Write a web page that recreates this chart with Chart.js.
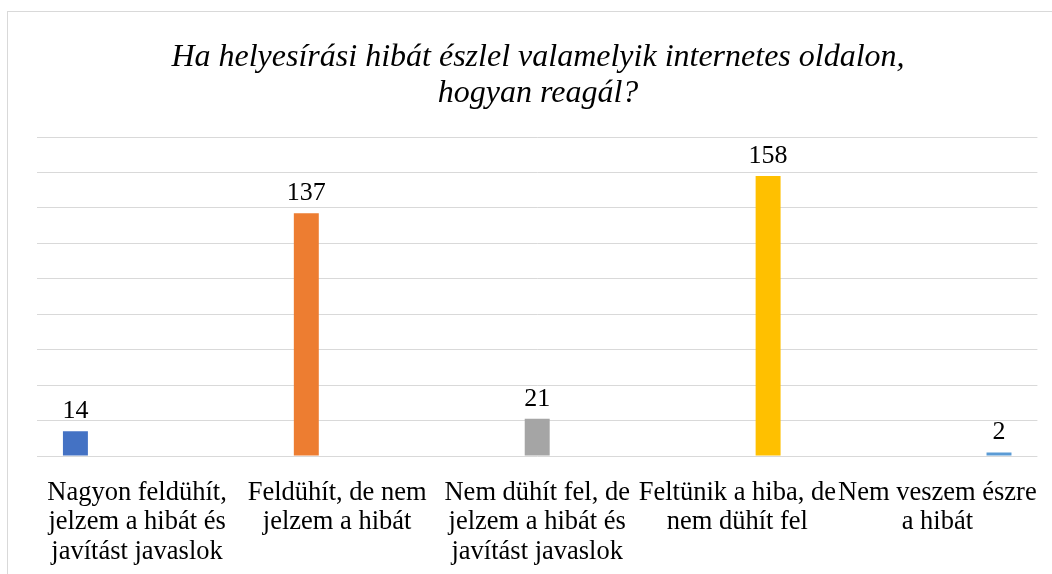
<!DOCTYPE html>
<html>
<head>
<meta charset="utf-8">
<script src="https://cdn.jsdelivr.net/npm/chart.js@4"></script>
<style>
  html, body { margin: 0; padding: 0; background: #fff; overflow: hidden; }
  #frame {
    position: absolute; left: 7px; top: 11px; width: 1200px; height: 700px;
    border-left: 1px solid #d9d9d9; border-top: 1px solid #d9d9d9;
  }
  #wrap { position: absolute; left: 0; top: 0; width: 1052px; height: 574px; }
</style>
</head>
<body>
<div id="frame"></div>
<div id="wrap"><canvas id="chart" width="1052" height="574"></canvas></div>
<script>
// chart data
const titleLines = ["Ha helyesírási hibát észlel valamelyik internetes oldalon,", "hogyan reagál?"];
const categories = [
  ["Nagyon feldühít,", "jelzem a hibát és", "javítást javaslok"],
  ["Feldühít, de nem", "jelzem a hibát"],
  ["Nem dühít fel, de", "jelzem a hibát és", "javítást javaslok"],
  ["Feltünik a hiba, de", "nem dühít fel"],
  ["Nem veszem észre", "a hibát"]
];
const values = [14, 137, 21, 158, 2];
const yMax = 180;
const yStep = 20;

const barColors = ["#4472C4", "#ED7D31", "#A5A5A5", "#FFC000", "#5B9BD5"];
const serif = "'Liberation Serif', 'Times New Roman', serif";

// every answer is its own series, so the bars sit in their own slot like in Excel
const datasets = values.map((v, i) => ({
  label: categories[i].join(" "),
  data: categories.map((_, j) => (j === i ? v : null)),
  backgroundColor: barColors[i],
  categoryPercentage: 0.77,
  barPercentage: 0.81
}));

const valueLabels = {
  id: "valueLabels",
  afterDatasetsDraw(chart) {
    const ctx = chart.ctx;
    ctx.save();
    ctx.font = "26px " + serif;
    ctx.fillStyle = "#000";
    ctx.textAlign = "center";
    ctx.textBaseline = "alphabetic";
    chart.data.datasets.forEach((ds, i) => {
      const meta = chart.getDatasetMeta(i);
      meta.data.forEach((bar, j) => {
        if (ds.data[j] == null) return;
        ctx.fillText(String(ds.data[j]), bar.x, bar.y - 13);
      });
    });
    ctx.restore();
  }
};

new Chart(document.getElementById("chart"), {
  type: "bar",
  data: { labels: categories, datasets: datasets },
  plugins: [valueLabels],
  options: {
    responsive: false,
    animation: false,
    layout: { padding: { left: 37, right: 13, top: 0, bottom: 0 } },
    plugins: {
      legend: { display: false },
      tooltip: { enabled: false },
      title: {
        display: true,
        text: titleLines,
        color: "#000",
        font: { family: serif, size: 32, style: "italic", weight: "normal", lineHeight: 36 / 32 },
        padding: { top: 40, bottom: 25 }
      }
    },
    scales: {
      x: {
        grid: { display: false },
        border: { display: false },
        ticks: {
          autoSkip: false,
          maxRotation: 0,
          minRotation: 0,
          padding: 14,
          color: "#000",
          font: { family: serif, size: 26.5, lineHeight: 29.5 / 26.5 }
        },
        afterFit(scale) { scale.height = 118; }
      },
      y: {
        min: 0,
        max: yMax,
        border: { display: false },
        grid: { color: "#d9d9d9", lineWidth: 1, drawTicks: false },
        ticks: { display: false, stepSize: yStep },
        afterFit(scale) { scale.width = 0; }
      }
    }
  }
});
</script>
</body>
</html>
